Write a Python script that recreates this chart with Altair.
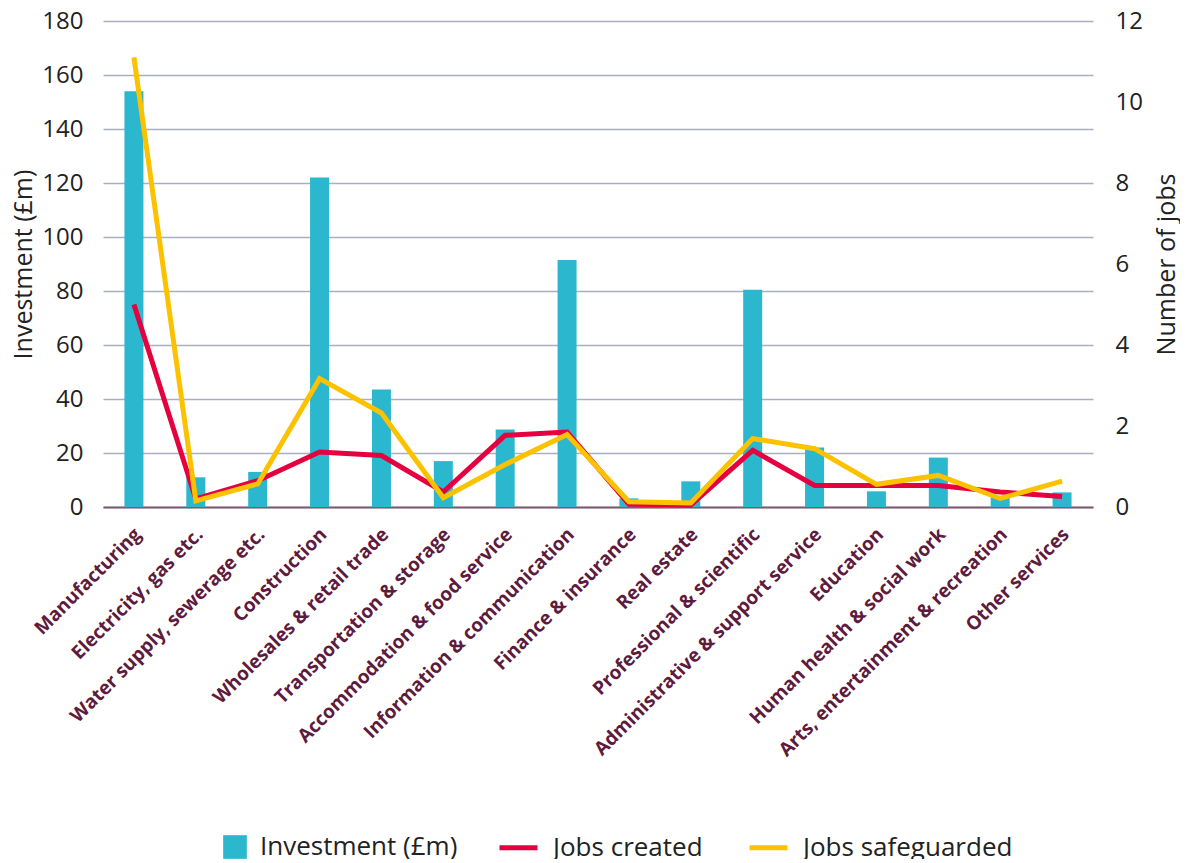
import altair as alt
import pandas as pd

categories = [
    "Manufacturing", "Electricity, gas etc.", "Water supply, sewerage etc.",
    "Construction", "Wholesales & retail trade", "Transportation & storage",
    "Accommodation & food service", "Information & communication",
    "Finance & insurance", "Real estate", "Professional & scientific",
    "Administrative & support service", "Education",
    "Human health & social work", "Arts, entertainment & recreation",
    "Other services",
]
investment = [154, 11, 13, 122, 43.5, 17, 28.7, 91.5, 3.2, 9.5, 80.5, 22, 5.8, 18.3, 4, 5.4]
jobs_created = [5.0, 0.2, 0.65, 1.36, 1.27, 0.37, 1.77, 1.85, 0.07, 0.05, 1.40, 0.53, 0.53, 0.53, 0.37, 0.26]
jobs_safeguarded = [11.1, 0.15, 0.57, 3.17, 2.32, 0.23, 1.05, 1.79, 0.13, 0.10, 1.69, 1.44, 0.56, 0.78, 0.21, 0.64]

TEAL = "#2bb7ce"
RED = "#e5003f"
YELLOW = "#fcc200"
GRID = "#a9b0bd"
LABEL_DARK = "#5e1b3d"
TEXT = "#222222"
NUM_FONT = "Open Sans"

bars_df = pd.DataFrame({"category": categories, "value": investment,
                        "series": "Investment (£m)"})
lines_df = pd.DataFrame({
    "category": categories * 2,
    "value": jobs_created + jobs_safeguarded,
    "series": ["Jobs created"] * len(categories) + ["Jobs safeguarded"] * len(categories),
})

x_enc = alt.X("category:N", sort=categories, title=None,
              scale=alt.Scale(paddingInner=0.0, paddingOuter=0.0),
              axis=alt.Axis(labelAngle=-45, labelAlign="right", labelBaseline="middle",
                            labelFont="Open Sans", labelFontWeight="bold", labelFontSize=19,
                            labelColor=LABEL_DARK, labelPadding=24, labelOffset=4,
                            ticks=False, domainColor="#7d5b70", domainWidth=2, grid=False,
                            labelLimit=400))

bars = alt.Chart(bars_df).mark_bar(size=19).encode(
    x=x_enc,
    y=alt.Y("value:Q", title="Investment (£m)",
            scale=alt.Scale(domain=[0, 180], nice=False),
            axis=alt.Axis(values=list(range(0, 181, 20)), grid=True, gridColor=GRID,
                          gridWidth=1.5, domain=False, ticks=False,
                          labelFont=NUM_FONT, labelFontSize=24,
                          labelColor=TEXT, labelPadding=20,
                          titleFont=NUM_FONT, titleFontWeight="normal", titleFontSize=25,
                          titleColor=TEXT, titlePadding=5)),
    fill=alt.Fill("series:N", scale=alt.Scale(domain=["Investment (£m)"], range=[TEAL]),
                  legend=alt.Legend(title=None, orient="none", legendX=119, legendY=813,
                                    symbolType="square", symbolSize=560,
                                    labelFont=NUM_FONT, labelFontSize=26, labelLimit=500,
                                    labelColor=TEXT, labelOffset=12, padding=0)),
)

y_right = alt.Y("value:Q", title="Number of jobs",
                scale=alt.Scale(domain=[0, 12], nice=False),
                axis=alt.Axis(orient="right", values=list(range(0, 13, 2)), grid=False,
                              domain=False, ticks=False,
                              labelFont=NUM_FONT, labelFontSize=24,
                              labelColor=TEXT, labelPadding=22,
                              titleFont=NUM_FONT, titleFontWeight="normal", titleFontSize=25,
                              titleColor=TEXT, titlePadding=37, titleAngle=270))

stroke_enc = alt.Stroke("series:N",
                        scale=alt.Scale(domain=["Jobs created", "Jobs safeguarded"],
                                        range=[RED, YELLOW]),
                        legend=alt.Legend(title=None, orient="none", direction="horizontal",
                                          legendX=394, legendY=805,
                                          symbolType="stroke", symbolSize=1444,
                                          symbolStrokeWidth=5,
                                          labelFont=NUM_FONT, labelFontSize=26, labelLimit=500,
                                          labelColor=TEXT, labelOffset=13,
                                          columnPadding=36, padding=0))

line_red = alt.Chart(lines_df).transform_filter(
    alt.datum.series == "Jobs created").mark_line(strokeWidth=5, strokeJoin="miter").encode(
    x=alt.X("category:N", sort=categories), y=y_right, stroke=stroke_enc)
line_yel = alt.Chart(lines_df).transform_filter(
    alt.datum.series == "Jobs safeguarded").mark_line(strokeWidth=5, strokeJoin="miter").encode(
    x=alt.X("category:N", sort=categories), y=y_right, stroke=stroke_enc)

lines = alt.layer(line_red, line_yel)

chart = alt.layer(bars, lines).resolve_scale(y="independent").properties(
    width=990, height=486,
    autosize=alt.AutoSizeParams(type="none"),
    padding={"left": 95, "top": 13, "right": 87, "bottom": 352},
    background="white",
).configure_view(stroke=None)

chart.save("out.html", embed_options={"renderer": "svg", "actions": False})
